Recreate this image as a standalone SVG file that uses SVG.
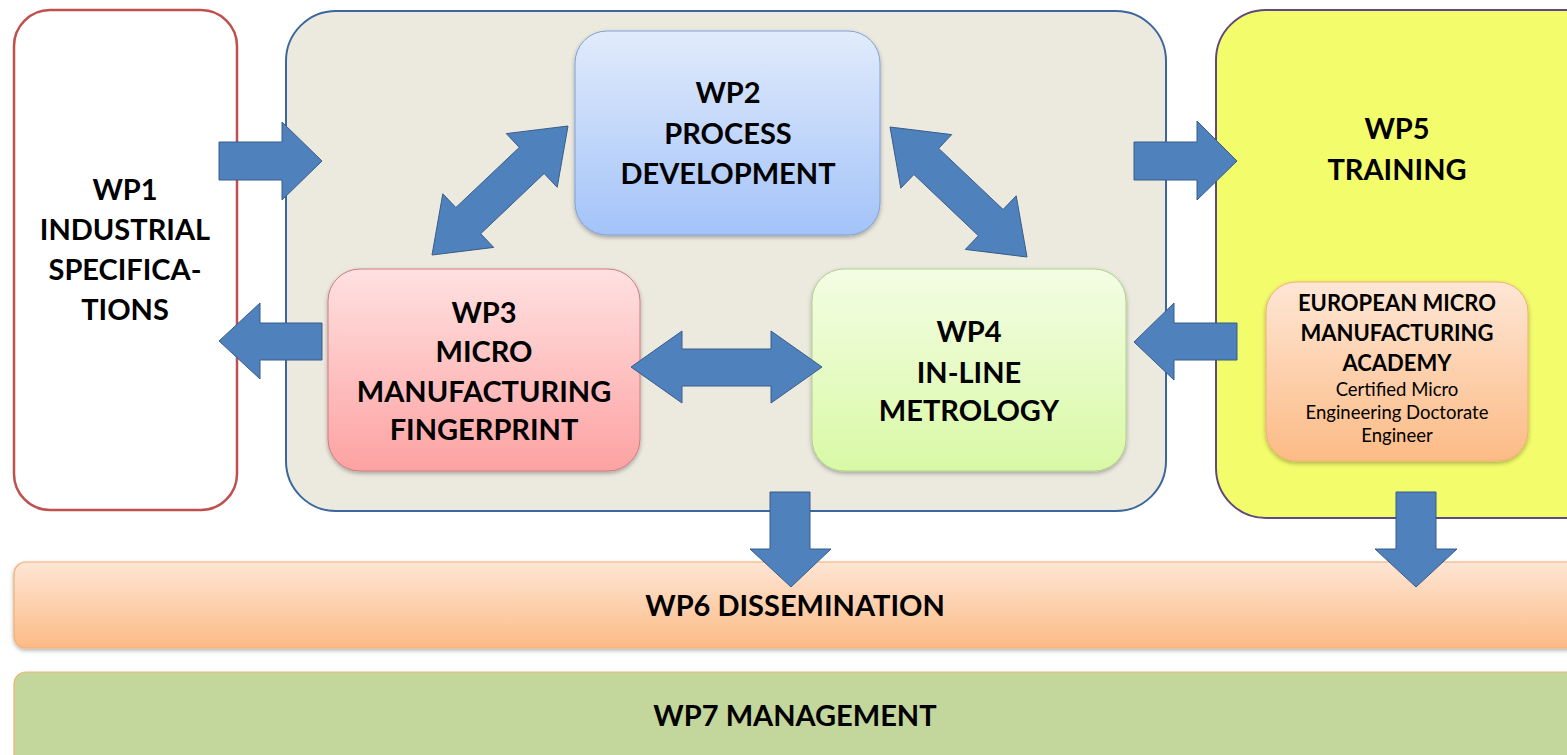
<svg xmlns="http://www.w3.org/2000/svg" width="1567" height="755" viewBox="0 0 1567 755">
<defs>
<linearGradient id="gBlue" x1="0" y1="0" x2="0" y2="1"><stop offset="0" stop-color="#e1ebfc"/><stop offset="1" stop-color="#a3c3f8"/></linearGradient>
<linearGradient id="gRed" x1="0" y1="0" x2="0" y2="1"><stop offset="0" stop-color="#ffe1e1"/><stop offset="1" stop-color="#fda2a2"/></linearGradient>
<linearGradient id="gGreen" x1="0" y1="0" x2="0" y2="1"><stop offset="0" stop-color="#f3fde4"/><stop offset="1" stop-color="#d9f9a5"/></linearGradient>
<linearGradient id="gOrange" x1="0" y1="0" x2="0" y2="1"><stop offset="0" stop-color="#fee6d5"/><stop offset="1" stop-color="#fcbb85"/></linearGradient>
<filter id="sh" x="-5%" y="-5%" width="110%" height="115%"><feDropShadow dx="0" dy="2" stdDeviation="2" flood-color="#000" flood-opacity="0.3"/></filter>
<style>
.t{font-family:Lato,"Open Sans","Liberation Sans",sans-serif;font-weight:bold;font-size:29px;fill:#000;text-anchor:middle}
.s{font-family:Lato,"Open Sans","Liberation Sans",sans-serif;font-weight:bold;font-size:22px;fill:#000;text-anchor:middle}
.r{font-family:Lato,"Open Sans","Liberation Sans",sans-serif;font-size:18.5px;fill:#000;text-anchor:middle}
.arrow{fill:#4f81bd;stroke:#385d8a;stroke-width:1}
</style>
</defs>
<rect width="1567" height="755" fill="#ffffff"/>

<g id="wp6">
<rect x="14" y="562" width="1570" height="86" rx="12" fill="url(#gOrange)" stroke="#f6ad6e" stroke-width="1.2" filter="url(#sh)"/>
<text class="t" x="795" y="616">WP6 DISSEMINATION</text>
</g>
<g id="wp7">
<rect x="14" y="672" width="1570" height="100" rx="12" fill="#c3d69b" stroke="#f0b27a" stroke-width="1.2"/>
<text class="t" x="795" y="726">WP7 MANAGEMENT</text>
</g>

<g id="wp1">
<rect x="14" y="10" width="223" height="500" rx="36" fill="#ffffff" stroke="#c0504d" stroke-width="2.5"/>
<text class="t" x="125" y="200">WP1</text>
<text class="t" x="125" y="240">INDUSTRIAL</text>
<text class="t" x="125" y="280">SPECIFICA-</text>
<text class="t" x="125" y="320">TIONS</text>
</g>

<g id="core">
<rect x="286" y="11" width="880" height="500" rx="50" fill="#ece9df" stroke="#3b679e" stroke-width="2"/>
</g>

<g id="wp5">
<rect x="1216" y="10" width="400" height="508" rx="50" fill="#f3fc6b" stroke="#604a7b" stroke-width="2"/>
<text class="t" x="1397" y="139">WP5</text>
<text class="t" x="1397" y="180">TRAINING</text>
</g>

<g id="academy">
<rect x="1266" y="282" width="262" height="179" rx="30" fill="url(#gOrange)" stroke="#f4ae72" stroke-width="1" filter="url(#sh)"/>
<text class="s" x="1397" y="311">EUROPEAN MICRO</text>
<text class="s" x="1397" y="341">MANUFACTURING</text>
<text class="s" x="1397" y="371">ACADEMY</text>
<text class="r" x="1397" y="396">Certified Micro</text>
<text class="r" x="1397" y="419">Engineering Doctorate</text>
<text class="r" x="1397" y="442">Engineer</text>
</g>

<g id="wp2">
<rect x="575" y="31" width="305" height="204" rx="32" fill="url(#gBlue)" stroke="#7ea3d6" stroke-width="1" filter="url(#sh)"/>
<text class="t" x="728" y="103">WP2</text>
<text class="t" x="728" y="144">PROCESS</text>
<text class="t" x="728" y="184">DEVELOPMENT</text>
</g>

<g id="wp3">
<rect x="328" y="269" width="312" height="202" rx="32" fill="url(#gRed)" stroke="#d27a7a" stroke-width="1" filter="url(#sh)"/>
<text class="t" x="484" y="323">WP3</text>
<text class="t" x="484" y="362">MICRO</text>
<text class="t" x="484" y="402">MANUFACTURING</text>
<text class="t" x="484" y="440">FINGERPRINT</text>
</g>

<g id="wp4">
<rect x="812" y="269" width="314" height="202" rx="32" fill="url(#gGreen)" stroke="#aed28a" stroke-width="1" filter="url(#sh)"/>
<text class="t" x="969" y="342">WP4</text>
<text class="t" x="969" y="383">IN-LINE</text>
<text class="t" x="969" y="421">METROLOGY</text>
</g>

<g id="connectors">
<polygon class="arrow" points="219,142 282,142 282,122 322,161 282,200 282,180 219,180"/>
<polygon class="arrow" points="322,323 260,323 260,303 219,341 260,379 260,360 322,360"/>
<polygon class="arrow" points="1134,142 1197,142 1197,121 1237,161 1197,200 1197,180 1134,180"/>
<polygon class="arrow" points="1237,323 1174,323 1174,303 1134,342 1174,380 1174,360 1237,360"/>
<polygon class="arrow" points="631,367 682,331 682,349 771,349 771,331 822,367 771,403 771,386 682,386 682,403"/>
<polygon class="arrow" points="568,126 557.2,187.3 544.1,173.5 480.7,233.7 493.7,247.4 432,255 442.8,193.8 455.9,207.5 519.3,147.4 506.3,133.6"/>
<polygon class="arrow" points="890,127 951.7,134.6 938.7,148.4 1003.1,209.5 1016.2,195.8 1027,257 965.3,249.4 978.4,235.7 913.9,174.5 900.8,188.2"/>
<polygon class="arrow" points="770,492 810,492 810,549 831,549 791,587 750,549 770,549"/>
<polygon class="arrow" points="1396,492 1436,492 1436,549 1457,549 1416,587 1375,549 1396,549"/>
</g>
</svg>
